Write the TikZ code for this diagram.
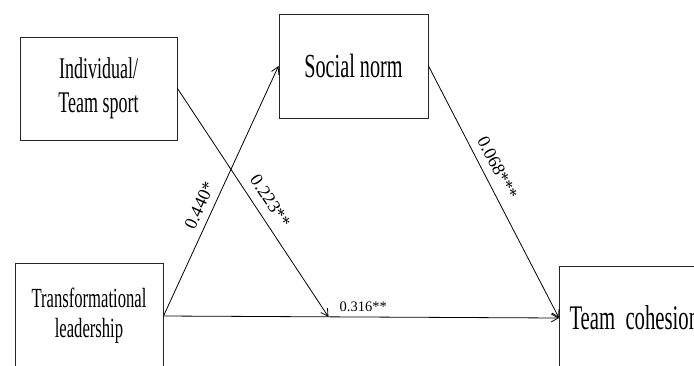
\documentclass[tikz,border=0pt]{standalone}
\usepackage{fontspec}
\setmainfont{Liberation Serif}
\newfontfamily\condfont{Liberation Serif}[FakeStretch=0.6]
\usetikzlibrary{arrows.meta}
\begin{document}
\begin{tikzpicture}[x=1pt,y=-1pt,
  box/.style={draw=black!85, line width=1pt, inner sep=0pt},
  conn/.style={line width=0.8pt, -{Straight Barb[length=7pt,width=8pt]}},
  lab/.style={font=\fontsize{18}{18}\selectfont, inner sep=1pt},
  labs/.style={font=\fontsize{14.5}{14.5}\selectfont, inner sep=1pt}]
\useasboundingbox (0,0) rectangle (694,365);
\clip (0,0) rectangle (694,365);
\node[box, minimum width=157pt, minimum height=103pt, align=center,
      font=\condfont\fontsize{30}{34}\selectfont] (it) at (98.5,88.5) {Individual/\\Team sport};
\node[box, minimum width=149pt, minimum height=104pt,
      font=\condfont\fontsize{33.7}{36}\selectfont] (sn) at (353.5,66) {Social norm};
\node[box, minimum width=148pt, minimum height=106pt, align=center,
      font=\condfont\fontsize{27.7}{30}\selectfont] (tl) at (89,316) {Transformational\\leadership};
\node[box, anchor=west, inner xsep=10pt, minimum height=104pt,
      font=\condfont\fontsize{34.5}{36}\selectfont] (tc) at (559,318) {Team\ \ cohesion};
\draw[conn] (tl.east) -- (tc.west) coordinate[pos=0.417] (m)
  node[labs, above=4pt, pos=0.505] (l4) {0.316**};
\draw[conn] (tl.east) -- (sn.west)
  node[lab, sloped, above=6pt, pos=0.42] (l1) {0.440*};
\draw[conn] (it.east) -- (m)
  node[lab, sloped, above=8pt, pos=0.53] (l2) {0.223**};
\draw[conn] (sn.east) -- (tc.west)
  node[lab, sloped, above=7pt, pos=0.43] (l3) {0.068***};
\end{tikzpicture}
\end{document}
